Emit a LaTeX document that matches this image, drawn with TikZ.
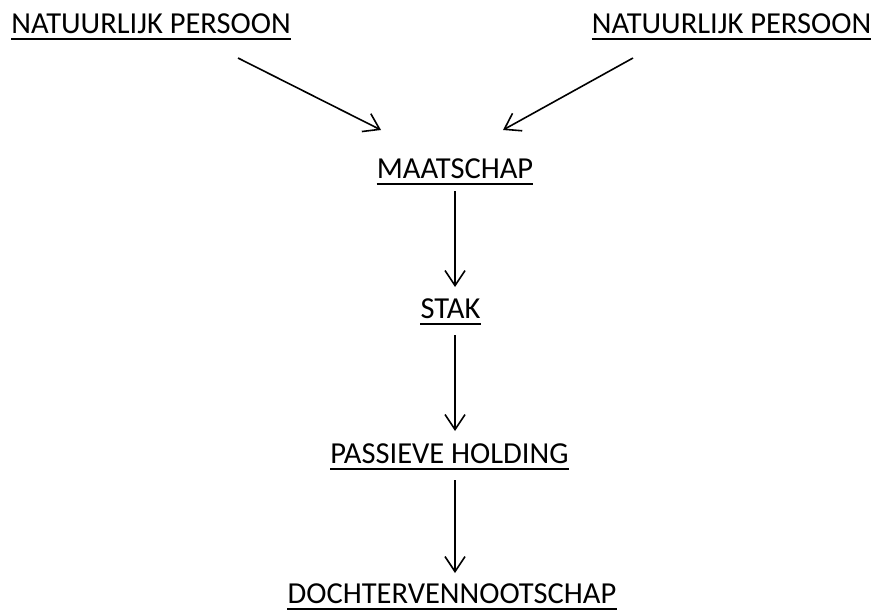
\documentclass[tikz,border=0pt]{standalone}
\usepackage{fontspec}
\setmainfont{Carlito}
\usetikzlibrary{arrows.meta}
\begin{document}
\begin{tikzpicture}[x=1pt,y=-1pt,
  lbl/.style={inner sep=0pt,anchor=base,font=\fontsize{30.5}{36}\selectfont},
  conn/.style={line width=1.6pt,-{Straight Barb[length=15pt,width=20pt,line width=1.6pt]}},
  uline/.style={line width=1.6pt}]
\useasboundingbox (0,0) rectangle (877,614);
\node[lbl] (np1) at (151,33) {NATUURLIJK PERSOON};
\node[lbl] (np2) at (731.5,33) {NATUURLIJK PERSOON};
\node[lbl] (maat) at (455,178) {MAATSCHAP};
\node[lbl] (stak) at (450.5,318) {STAK};
\node[lbl] (ph) at (449.5,463) {PASSIEVE HOLDING};
\node[lbl] (dv) at (452,603) {DOCHTERVENNOOTSCHAP};
\foreach \n in {np1,np2,maat,stak,ph,dv}{
  \draw[uline] ([yshift=-6pt]\n.base west) -- ([yshift=-6pt]\n.base east);
}
\coordinate (a1s) at (238,58);
\coordinate (a1e) at (381,130);
\coordinate (a2s) at (633,58);
\coordinate (a2e) at (503,130);
\draw[conn] (a1s) -- (a1e);
\draw[conn] (a2s) -- (a2e);
\coordinate (m1) at (455,191);
\coordinate (m2) at (455,287);
\coordinate (s1) at (455,335);
\coordinate (s2) at (455,431);
\coordinate (p1) at (455,480);
\coordinate (p2) at (455,573);
\draw[conn] (m1) -- (m2);
\draw[conn] (s1) -- (s2);
\draw[conn] (p1) -- (p2);
\end{tikzpicture}
\end{document}
